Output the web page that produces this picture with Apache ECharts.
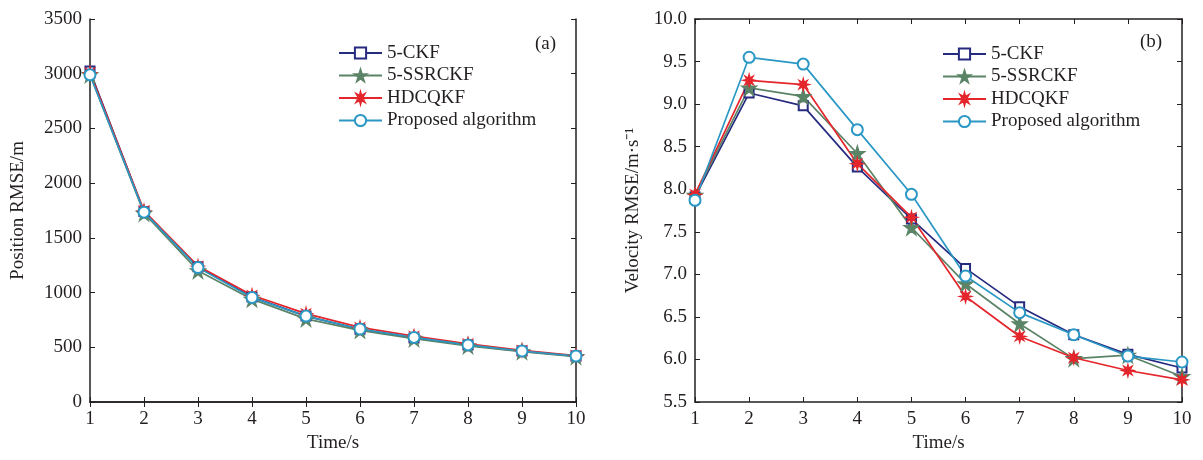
<!DOCTYPE html>
<html>
<head>
<meta charset="utf-8">
<script src="https://cdn.jsdelivr.net/npm/echarts@6/dist/echarts.min.js"></script>
<style>
  html, body { margin: 0; padding: 0; background: #fff; }
  #main { width: 1203px; height: 460px; }
</style>
</head>
<body>
<div id="main"></div>
<script>
// data
var times = [1, 2, 3, 4, 5, 6, 7, 8, 9, 10];
var names = ['5-CKF', '5-SSRCKF', 'HDCQKF', 'Proposed algorithm'];

// (a) position RMSE / m
var posCKF      = [3025, 1740, 1235, 960, 785, 665, 585, 520, 465, 420];
var posSSRCKF   = [2990, 1725, 1200, 940, 760, 655, 578, 513, 460, 415];
var posHDCQKF   = [3010, 1748, 1242, 975, 808, 682, 602, 532, 472, 425];
var posProposed = [2990, 1735, 1228, 955, 785, 667, 590, 522, 466, 420];

// (b) velocity RMSE / m·s^-1
var velCKF      = [7.91, 9.13, 8.98, 8.26, 7.65, 7.07, 6.62, 6.29, 6.06, 5.90];
var velSSRCKF   = [7.93, 9.19, 9.09, 8.42, 7.55, 6.89, 6.42, 6.01, 6.05, 5.80];
var velHDCQKF   = [7.94, 9.28, 9.23, 8.30, 7.67, 6.74, 6.27, 6.02, 5.87, 5.76];
var velProposed = [7.87, 9.55, 9.47, 8.70, 7.94, 6.98, 6.55, 6.29, 6.04, 5.97];

var colors = ['#262b80', '#5b8467', '#e4262c', '#2a97c4'];
var starPath = 'path://M50,0 L61,35 L98,35 L68,57 L79,92 L50,70 L21,92 L32,57 L2,35 L39,35 Z';
var asterPath = 'path://M50,0 L58,30 L85,15 L70,42 L100,50 L70,58 L85,85 L58,70 L50,100 L42,70 L15,85 L30,58 L0,50 L30,42 L15,15 L42,30 Z';
var symbols = ['emptyRect', starPath, asterPath, 'emptyCircle'];
var symSizes = [9, 14, 11, 11];

var font = 'Liberation Serif';
var fs = 19;
var ink = '#231f20';

function pair(xs, ys) {
    return xs.map(function (x, i) { return [x, ys[i]]; });
}

function makeSeries(gi, sets) {
    return sets.map(function (d, k) {
        return {
            name: names[k],
            type: 'line',
            xAxisIndex: gi * 2,
            yAxisIndex: gi * 2,
            data: pair(times, d),
            symbol: symbols[k],
            symbolSize: symSizes[k],
            color: colors[k],
            lineStyle: { width: 1.7, color: colors[k] },
            itemStyle: { color: colors[k], borderColor: colors[k], borderWidth: 1.6 },
            emphasis: { disabled: true },
            animation: false
        };
    });
}

var grids = [
    { left: 90, top: 19, width: 486, height: 383 },
    { left: 695, top: 19, width: 487, height: 383 }
];

function xAxes(gi) {
    return [
        {
            gridIndex: gi, type: 'value', min: 1, max: 10, interval: 1,
            name: 'Time/s', nameLocation: 'middle', nameGap: 32,
            nameTextStyle: { fontFamily: font, fontSize: fs, color: ink },
            axisLine: { lineStyle: { color: ink, width: 1.5 } },
            axisTick: { inside: true, length: 5, lineStyle: { color: ink } },
            axisLabel: { fontFamily: font, fontSize: fs, color: ink, margin: 8 },
            splitLine: { show: false }
        },
        {
            gridIndex: gi, type: 'value', min: 1, max: 10, interval: 1, position: 'top',
            axisLine: { lineStyle: { color: ink, width: 1.5 } },
            axisTick: { inside: true, length: 5, lineStyle: { color: ink } },
            axisLabel: { show: false }, splitLine: { show: false }
        }
    ];
}

function yAxes(gi, min, max, step, title, dec) {
    return [
        {
            gridIndex: gi, type: 'value', min: min, max: max, interval: step,
            name: title, nameLocation: 'middle', nameGap: gi === 0 ? 62 : 52,
            nameTextStyle: { fontFamily: font, fontSize: fs, color: ink },
            axisLine: { show: true, lineStyle: { color: ink, width: 1.5 } },
            axisTick: { show: true, inside: true, length: 5, lineStyle: { color: ink } },
            axisLabel: {
                fontFamily: font, fontSize: fs, color: ink, margin: 8,
                formatter: function (v) { return v.toFixed(dec); }
            },
            splitLine: { show: false }
        },
        {
            gridIndex: gi, type: 'value', min: min, max: max, interval: step, position: 'right',
            axisLine: { show: true, lineStyle: { color: ink, width: 1.5 } },
            axisTick: { show: true, inside: true, length: 5, lineStyle: { color: ink } },
            axisLabel: { show: false }, splitLine: { show: false }
        }
    ];
}

function legendAt(left, top) {
    return {
        orient: 'vertical', left: left, top: top,
        itemWidth: 43, itemHeight: 14, itemGap: 2.5,
        data: names,
        textStyle: { fontFamily: font, fontSize: fs, color: ink, lineHeight: 20 },
        selectedMode: false
    };
}

var chart = echarts.init(document.getElementById('main'));
chart.setOption({
    backgroundColor: '#fff',
    animation: false,
    grid: grids,
    legend: [legendAt(333, 38), legendAt(937, 39)],
    xAxis: xAxes(0).concat(xAxes(1)),
    yAxis: yAxes(0, 0, 3500, 500, 'Position RMSE/m', 0)
        .concat(yAxes(1, 5.5, 10, 0.5, 'Velocity RMSE/m·s\u207B\u00B9', 1)),
    graphic: [
        { type: 'text', left: 535, top: 35, style: { text: '(a)', font: fs + 'px "Liberation Serif"', fill: ink } },
        { type: 'text', left: 1140, top: 33, style: { text: '(b)', font: fs + 'px "Liberation Serif"', fill: ink } }
    ],
    series: makeSeries(0, [posCKF, posSSRCKF, posHDCQKF, posProposed])
        .concat(makeSeries(1, [velCKF, velSSRCKF, velHDCQKF, velProposed]))
});
</script>
</body>
</html>
